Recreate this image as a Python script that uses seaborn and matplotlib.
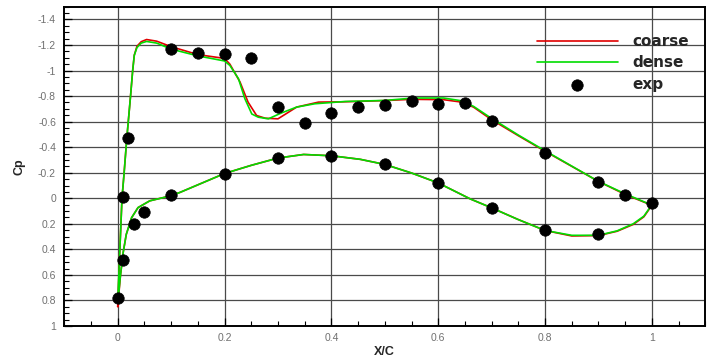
import matplotlib
matplotlib.use("Agg")
import matplotlib.pyplot as plt
import numpy as np
import pandas as pd
import seaborn as sns
from matplotlib.ticker import MultipleLocator, FuncFormatter

# ---------------- data ----------------
coarse_upper_x = [0.0, 0.003, 0.008, 0.012, 0.017, 0.024, 0.028, 0.031, 0.036, 0.044, 0.054,
                  0.073, 0.1, 0.15, 0.2, 0.21, 0.229, 0.244, 0.26, 0.276, 0.30, 0.335, 0.376,
                  0.42, 0.5, 0.55, 0.61, 0.64, 0.666, 0.7, 0.75, 0.8, 0.85, 0.9, 0.95, 1.0]
coarse_upper_cp = [0.85, 0.5, 0.0, -0.2, -0.47, -0.8, -1.0, -1.12, -1.19, -1.226, -1.243,
                   -1.23, -1.187, -1.125, -1.095, -1.05, -0.91, -0.753, -0.648, -0.627, -0.622,
                   -0.714, -0.753, -0.755, -0.765, -0.775, -0.772, -0.755, -0.714, -0.615,
                   -0.49, -0.368, -0.25, -0.132, -0.03, 0.055]

dense_upper_x = [0.0, 0.003, 0.008, 0.012, 0.017, 0.024, 0.028, 0.031, 0.036, 0.044, 0.054,
                 0.073, 0.1, 0.15, 0.2, 0.21, 0.226, 0.238, 0.251, 0.263, 0.282, 0.307, 0.335,
                 0.369, 0.426, 0.5, 0.554, 0.61, 0.641, 0.666, 0.7, 0.75, 0.8, 0.85, 0.9,
                 0.95, 0.995]
dense_upper_cp = [0.82, 0.5, 0.0, -0.2, -0.47, -0.8, -1.0, -1.12, -1.18, -1.215, -1.228,
                  -1.215, -1.168, -1.115, -1.075, -1.04, -0.937, -0.78, -0.66, -0.635, -0.622,
                  -0.669, -0.714, -0.74, -0.758, -0.766, -0.785, -0.785, -0.765, -0.72,
                  -0.625, -0.495, -0.372, -0.252, -0.132, -0.035, 0.045]

lower_x = [0.0, 0.005, 0.01, 0.016, 0.026, 0.038, 0.06, 0.09, 0.116, 0.2, 0.25, 0.3, 0.348,
           0.4, 0.454, 0.5, 0.55, 0.6, 0.66, 0.7, 0.75, 0.8, 0.85, 0.9, 0.935, 0.965, 0.985,
           1.0]
coarse_lower_cp = [0.85, 0.61, 0.43, 0.283, 0.152, 0.073, 0.02, -0.01, -0.045, -0.194, -0.258,
                   -0.315, -0.343, -0.333, -0.305, -0.265, -0.198, -0.12, 0.005, 0.075, 0.167,
                   0.252, 0.295, 0.292, 0.258, 0.205, 0.145, 0.055]
dense_lower_cp = [0.82, 0.61, 0.43, 0.283, 0.152, 0.073, 0.02, -0.01, -0.045, -0.194, -0.258,
                  -0.315, -0.343, -0.333, -0.305, -0.265, -0.198, -0.12, 0.005, 0.075, 0.167,
                  0.252, 0.29, 0.29, 0.255, 0.2, 0.14, 0.05]

exp_x = [0.02, 0.1, 0.15, 0.2, 0.25, 0.3, 0.35, 0.4, 0.45, 0.5, 0.55, 0.6, 0.65, 0.7, 0.8,
         0.9, 0.95, 1.0,
         0.0, 0.01, 0.01, 0.03, 0.05, 0.1, 0.2, 0.3, 0.4, 0.5, 0.6, 0.7, 0.8, 0.9]
exp_cp = [-0.47, -1.165, -1.14, -1.13, -1.097, -0.714, -0.593, -0.664, -0.717, -0.727, -0.758,
          -0.738, -0.748, -0.606, -0.354, -0.128, -0.026, 0.034,
          0.782, 0.486, -0.013, 0.2, 0.105, -0.029, -0.189, -0.315, -0.328, -0.265, -0.12,
          0.073, 0.252, 0.283]

x_ticks = [0, 0.2, 0.4, 0.6, 0.8, 1]
y_ticks = [-1.4, -1.2, -1, -0.8, -0.6, -0.4, -0.2, 0, 0.2, 0.4, 0.6, 0.8, 1]

# ---------------- tables ----------------
coarse_df = pd.DataFrame({"x": coarse_upper_x[::-1] + lower_x,
                          "cp": coarse_upper_cp[::-1] + coarse_lower_cp})
dense_df = pd.DataFrame({"x": dense_upper_x[::-1] + lower_x,
                         "cp": dense_upper_cp[::-1] + dense_lower_cp})
exp_df = pd.DataFrame({"x": exp_x, "cp": exp_cp})

sns.set_theme(style="white")
plt.rcParams["font.family"] = ["Liberation Sans", "DejaVu Sans"]

fig = plt.figure(figsize=(7.2, 3.6), dpi=100)
ax = fig.add_axes([64.3 / 720, 34 / 360, (705.3 - 64.3) / 720, (326 - 6.7) / 360])

sns.lineplot(data=coarse_df, x="x", y="cp", sort=False, estimator=None, color="#e00000",
             lw=1.2, ax=ax, label="coarse", zorder=3)
sns.lineplot(data=dense_df, x="x", y="cp", sort=False, estimator=None, color="#00dd00",
             lw=1.2, ax=ax, label="dense", zorder=4)
sns.scatterplot(data=exp_df, x="x", y="cp", color="black", s=68, edgecolor="black",
                linewidth=0.5, ax=ax, label="exp", zorder=5)

ax.set_xlim(-0.1, 1.1)
ax.set_ylim(1.0, -1.5)

ax.set_xticks(x_ticks)
ax.set_yticks(y_ticks)
ax.xaxis.set_minor_locator(MultipleLocator(0.05))
ax.yaxis.set_minor_locator(MultipleLocator(0.05))
fmt = FuncFormatter(lambda v, p: "%g" % round(v, 3))
ax.xaxis.set_major_formatter(fmt)
ax.yaxis.set_major_formatter(fmt)

ax.grid(True, which="major", color="#4a4a4a", lw=0.9)
ax.tick_params(which="both", direction="in", left=True, bottom=True, top=False, right=False,
               color="black", labelcolor="#707070", labelsize=7.5)
ax.tick_params(which="major", length=6, width=0.9)
ax.tick_params(which="minor", length=3.5, width=0.8)
ax.tick_params(axis="y", pad=6)
ax.tick_params(axis="x", pad=5)

for s in ax.spines.values():
    s.set_visible(True)
    s.set_color("black")
    s.set_linewidth(1.4)

ax.set_xlabel("X/C", fontsize=9, fontweight="bold", labelpad=2)
ax.set_ylabel("Cp", fontsize=9, fontweight="bold", labelpad=9)

handles, labels = ax.get_legend_handles_labels()
ax.legend(handles, labels, loc="upper left", bbox_to_anchor=(537 / 720, 1 - 34 / 360),
          bbox_transform=fig.transFigure, frameon=False, borderpad=0, borderaxespad=0,
          handlelength=5.3, handletextpad=0.95, labelspacing=0.42, markerscale=1.0,
          prop={"family": "DejaVu Sans", "weight": "bold", "size": 11})

fig.savefig("out.png", dpi=100)
